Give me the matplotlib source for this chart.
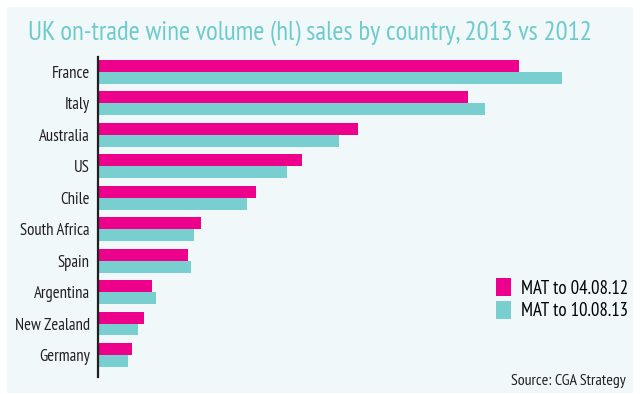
import matplotlib

matplotlib.use("Agg")
import matplotlib.pyplot as plt
from matplotlib.patches import Rectangle
from matplotlib import font_manager

countries = ["France", "Italy", "Australia", "US", "Chile", "South Africa",
             "Spain", "Argentina", "New Zealand", "Germany"]
mat_2012 = [421, 370, 260, 204, 158, 103, 90, 54, 46, 34]
mat_2013 = [464, 387, 241, 189, 149, 96, 93, 58, 40, 30]
series_labels = ["MAT to 04.08.12", "MAT to 10.08.13"]

PINK = "#ec008c"
TEAL = "#79cfd0"
PANEL = "#f0f8fa"

# condensed face closest to the original Myriad Condensed look
names = {f.name for f in font_manager.fontManager.ttflist}
family = "DejaVu Sans"
for cand in ["PT Sans Narrow", "Fira Sans Condensed", "Fira Sans Extra Condensed",
             "Encode Sans Condensed", "Asap Condensed", "Roboto Condensed"]:
    if cand in names:
        family = cand
        break
plt.rcParams["font.family"] = family

fig = plt.figure(figsize=(6.4, 3.94), dpi=100)
W, H = 640, 394
fig.patches.append(Rectangle((7 / W, 1 / H), 626 / W, 386 / H, transform=fig.transFigure,
                             facecolor=PANEL, edgecolor="none", zorder=-5))

ax = fig.add_axes([98 / W, 17 / H, 502 / W, 320 / H])
ax.set_facecolor("none")
ax.set_zorder(2)

h = 0.38
ys = list(range(len(countries)))
ax.barh([y - h / 2 for y in ys], mat_2012, height=h, color=PINK, label=series_labels[0])
ax.barh([y + h / 2 for y in ys], mat_2013, height=h, color=TEAL, label=series_labels[1])

ax.set_xlim(0, 502)
ax.set_ylim(9.70, -0.476)
ax.set_yticks(ys)
ax.set_yticklabels(countries, fontsize=12, color="#231f20")
ax.tick_params(axis="y", length=0, pad=6)
ax.set_xticks([])
for side in ["top", "right", "bottom"]:
    ax.spines[side].set_visible(False)
ax.spines["left"].set_linewidth(1.6)
ax.spines["left"].set_color("#231f20")

fig.text(28 / W, 1 - 33 / H, "UK on-trade wine volume (hl) sales by country, 2013 vs 2012",
         fontsize=19.4, color="#6fcacb", va="center", ha="left", zorder=3)

ax.legend(loc="lower left", bbox_to_anchor=(496 / W, 74 / H), bbox_transform=fig.transFigure,
          frameon=False, fontsize=13.5, handlelength=0.8, handleheight=1.1,
          handletextpad=0.55, labelspacing=0.15, borderaxespad=0, borderpad=0)

fig.text(626 / W, 1 - 381 / H, "Source: CGA Strategy", fontsize=11.4, color="#231f20",
         ha="right", va="center", zorder=3)

fig.savefig("out.png", dpi=100)
